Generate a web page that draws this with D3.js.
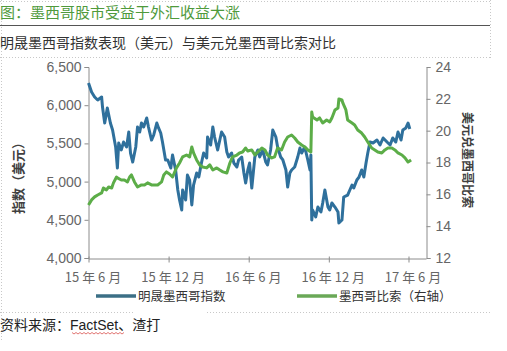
<!DOCTYPE html>
<html lang="zh">
<head>
<meta charset="UTF-8">
<title>墨西哥股市受益于外汇收益大涨</title>
<style>
    body { margin: 0; background: #fff; }
    svg { display: block; font-family: "Liberation Sans", Arial, "Noto Sans CJK SC", sans-serif; }
    .cjk { font-family: "Noto Sans CJK SC", sans-serif; }
</style>
</head>
<body>
<svg id="chart"></svg>
<script src="https://cdn.jsdelivr.net/npm/d3@7/dist/d3.min.js"></script>
<script>
// 明晟墨西哥指数（美元），左轴
const msciDates = ['2015-06-01','2015-06-08','2015-06-15','2015-06-22','2015-07-01','2015-07-03','2015-07-08','2015-07-12','2015-07-14','2015-07-21','2015-07-26','2015-08-02','2015-08-06','2015-08-09','2015-08-15','2015-08-20','2015-08-27','2015-09-01','2015-09-05','2015-09-10','2015-09-17','2015-09-21','2015-09-26','2015-09-30','2015-10-05','2015-10-12','2015-10-16','2015-10-23','2015-10-28','2015-11-04','2015-11-08','2015-11-13','2015-11-17','2015-11-24','2015-11-29','2015-12-06','2015-12-10','2015-12-17','2015-12-22','2015-12-26','2015-12-31','2016-01-02','2016-01-09','2016-01-13','2016-01-18','2016-01-23','2016-01-27','2016-02-03','2016-02-08','2016-02-14','2016-02-19','2016-02-26','2016-02-28','2016-03-06','2016-03-11','2016-03-15','2016-03-22','2016-03-27','2016-03-31','2016-04-07','2016-04-12','2016-04-16','2016-04-23','2016-04-28','2016-05-05','2016-05-09','2016-05-16','2016-05-21','2016-05-25','2016-05-30','2016-06-03','2016-06-08','2016-06-15','2016-06-22','2016-06-26','2016-07-03','2016-07-10','2016-07-14','2016-07-21','2016-07-26','2016-08-02','2016-08-06','2016-08-13','2016-08-18','2016-08-25','2016-08-29','2016-09-03','2016-09-07','2016-09-14','2016-09-21','2016-09-26','2016-09-30','2016-10-07','2016-10-14','2016-10-19','2016-10-21','2016-10-23','2016-10-25','2016-11-01','2016-11-06','2016-11-13','2016-11-17','2016-11-22','2016-11-29','2016-12-03','2016-12-08','2016-12-15','2016-12-22','2016-12-24','2016-12-31','2017-01-04','2017-01-13','2017-01-18','2017-01-23','2017-01-27','2017-02-03','2017-02-08','2017-02-14','2017-02-19','2017-02-24','2017-02-28','2017-03-05','2017-03-12','2017-03-21','2017-03-28','2017-04-04','2017-04-13','2017-04-20','2017-04-26','2017-05-03','2017-05-08','2017-05-15','2017-05-19','2017-05-26','2017-05-31','2017-06-04']
const msciValues = [6291,6173,6107,6068,6107,5976,5767,5898,5963,5767,5675,5453,5178,5505,5414,5518,5453,5649,5374,5256,5453,5715,5649,5767,5715,5832,5715,5544,5610,5767,5702,5636,5518,5283,5283,5178,5348,5152,4890,4759,4628,4890,4759,5086,5021,4694,4955,5112,5060,5243,5374,5309,5584,5479,5715,5584,5414,5544,5649,5584,5387,5322,5374,5243,5191,5283,5322,5112,4982,5152,5243,4916,5322,5414,5322,5414,5256,5217,5414,5675,5584,5453,5322,5283,5152,4929,5112,5152,5191,5322,5440,5374,5453,5283,5152,5348,4497,4628,4537,4667,4602,4720,4890,4667,4628,4720,4667,4602,4458,4497,4798,4824,4890,4955,4916,5021,5060,5152,5060,5243,5374,5518,5505,5544,5479,5571,5518,5479,5571,5518,5649,5544,5675,5702,5767,5688]

// 美元兑墨西哥比索，右轴
const pesoDates = ['2015-06-01','2015-06-08','2015-06-15','2015-06-22','2015-07-01','2015-07-05','2015-07-12','2015-07-17','2015-07-24','2015-07-28','2015-08-04','2015-08-06','2015-08-15','2015-08-22','2015-08-29','2015-09-03','2015-09-07','2015-09-14','2015-09-21','2015-09-30','2015-10-07','2015-10-14','2015-10-23','2015-10-30','2015-11-06','2015-11-15','2015-11-20','2015-11-26','2015-12-03','2015-12-10','2015-12-19','2015-12-26','2016-01-02','2016-01-11','2016-01-18','2016-01-23','2016-01-27','2016-02-03','2016-02-10','2016-02-17','2016-02-26','2016-03-04','2016-03-11','2016-03-20','2016-03-27','2016-04-03','2016-04-12','2016-04-19','2016-04-25','2016-05-05','2016-05-11','2016-05-18','2016-05-25','2016-05-30','2016-06-08','2016-06-15','2016-06-22','2016-07-01','2016-07-08','2016-07-14','2016-07-24','2016-07-30','2016-08-06','2016-08-15','2016-08-22','2016-08-29','2016-09-07','2016-09-14','2016-09-21','2016-09-30','2016-10-07','2016-10-14','2016-10-21','2016-10-23','2016-10-25','2016-11-04','2016-11-10','2016-11-17','2016-11-26','2016-12-03','2016-12-08','2016-12-15','2016-12-22','2016-12-24','2016-12-31','2017-01-02','2017-01-09','2017-01-13','2017-01-23','2017-01-29','2017-02-05','2017-02-14','2017-02-21','2017-02-28','2017-03-09','2017-03-16','2017-03-23','2017-04-01','2017-04-08','2017-04-15','2017-04-24','2017-05-01','2017-05-08','2017-05-17','2017-05-24','2017-05-31','2017-06-07']
const pesoValues = [15.33,15.65,15.84,15.96,16.09,16.40,16.28,16.46,16.40,16.72,17.09,17.03,16.90,16.90,16.78,17.09,17.22,16.78,16.46,16.59,16.59,16.72,16.59,16.59,16.59,16.78,17.22,17.41,17.28,17.09,17.66,17.97,18.35,18.47,18.35,18.98,18.60,18.16,17.85,17.72,17.66,17.85,17.53,17.66,17.53,17.41,17.34,17.97,18.35,18.47,18.60,18.66,18.91,18.72,18.79,18.47,18.66,18.91,18.79,18.47,18.29,18.35,18.91,18.79,19.29,19.60,19.73,19.54,19.29,19.10,18.98,18.79,18.66,21.17,20.86,20.67,20.80,20.48,20.67,20.55,20.80,21.30,21.43,21.99,21.93,21.74,21.30,20.67,20.48,20.36,20.04,19.85,19.60,19.29,18.91,18.79,18.66,18.60,18.79,18.91,18.91,18.79,18.60,18.47,18.29,18.03,18.16]

const xTicks = ['2015-06-01','2015-12-01','2016-06-01','2016-12-01','2017-06-01']
const leftTicks = [4000,4500,5000,5500,6000,6500]
const rightTicks = [12,14,16,18,20,22,24]
const seriesNames = ['明晟墨西哥指数','墨西哥比索（右轴）']

const blue = '#2f709c'
const green = '#5cad48'
const axisColor = '#8c8c8c'
const labelColor = '#666'

const W = 507, H = 351
const parse = d3.timeParse('%Y-%m-%d')

const svg = d3.select('#chart').attr('width', W).attr('height', H)

// faint document borders
const dots = svg.append('g').attr('stroke', '#c8c8c8').attr('stroke-dasharray', '1,2').attr('stroke-width', 1)
dots.append('line').attr('x1', 0).attr('x2', 490).attr('y1', 1.5).attr('y2', 1.5)
dots.append('line').attr('x1', 1.5).attr('x2', 1.5).attr('y1', 0).attr('y2', 340)
dots.append('line').attr('x1', 490.5).attr('x2', 490.5).attr('y1', 0).attr('y2', 58)
dots.append('line').attr('x1', 0).attr('x2', 490).attr('y1', 57.5).attr('y2', 57.5)
dots.append('line').attr('x1', 0).attr('x2', 135).attr('y1', 312.5).attr('y2', 312.5)
dots.append('line').attr('x1', 207).attr('x2', 490).attr('y1', 312.5).attr('y2', 312.5)

// title block
svg.append('text').attr('class', 'cjk').attr('x', 0).attr('y', 18)
    .attr('font-size', 15).attr('fill', '#4f9a3c').text('图：墨西哥股市受益于外汇收益大涨')
svg.append('line').attr('x1', 0).attr('x2', 490).attr('y1', 25.5).attr('y2', 25.5)
    .attr('stroke', '#555').attr('stroke-width', 1)
svg.append('text').attr('class', 'cjk').attr('x', 0).attr('y', 48)
    .attr('font-size', 14).attr('fill', '#333').text('明晟墨西哥指数表现（美元）与美元兑墨西哥比索对比')

// scales
const x = d3.scaleTime().domain([parse('2015-06-01'), parse('2017-07-11')]).range([88.5, 426])
const yL = d3.scaleLinear().domain([4000, 6500]).range([258, 67])
const yR = d3.scaleLinear().domain([12, 24]).range([258, 67])

function styleAxis(g) {
    g.selectAll('path, line').attr('stroke', axisColor)
    g.selectAll('text').attr('fill', labelColor)
}

svg.append('g').attr('transform', 'translate(88.5,0)')
    .call(d3.axisLeft(yL).tickValues(leftTicks).tickFormat(d3.format(',')).tickSize(4).tickSizeOuter(4).tickPadding(3))
    .call(styleAxis)
    .selectAll('text').attr('font-size', 14).attr('font-family', '"Liberation Sans", Arial, sans-serif')

svg.append('g').attr('transform', 'translate(426.5,0)')
    .call(d3.axisRight(yR).tickValues(rightTicks).tickSize(4).tickSizeOuter(4).tickPadding(5))
    .call(styleAxis)
    .selectAll('text').attr('font-size', 14).attr('font-family', '"Liberation Sans", Arial, sans-serif')

const xFmt = d => `${d3.timeFormat('%y')(d)} 年 ${d.getMonth() + 1} 月`
const xAxis = svg.append('g').attr('transform', 'translate(0,258.5)')
    .call(d3.axisBottom(x).tickValues(xTicks.map(parse)).tickFormat(xFmt).tickSize(4).tickSizeOuter(0).tickPadding(10))
    .call(styleAxis)
xAxis.selectAll('text').attr('class', 'cjk').attr('font-size', 13).attr('dx', 4)
xAxis.selectAll('.tick line').attr('y1', -2)

// axis titles
svg.append('text').attr('class', 'cjk')
    .attr('transform', 'translate(23,175) rotate(-90)')
    .attr('text-anchor', 'middle').attr('font-size', 13).attr('font-weight', 'bold')
    .attr('fill', '#404040').text('指数（美元）')
svg.append('text').attr('class', 'cjk')
    .attr('transform', 'translate(463,160) rotate(90)')
    .attr('text-anchor', 'middle').attr('font-size', 12).attr('font-weight', 'bold')
    .attr('fill', '#404040').text('美元兑墨西哥比索')

// series
const msci = msciDates.map((d, i) => ({ date: parse(d), v: msciValues[i] }))
const peso = pesoDates.map((d, i) => ({ date: parse(d), v: pesoValues[i] }))

svg.append('path').datum(msci)
    .attr('fill', 'none').attr('stroke', blue).attr('stroke-width', 3).attr('stroke-linejoin', 'round')
    .attr('d', d3.line().x(d => x(d.date)).y(d => yL(d.v)))
svg.append('path').datum(peso)
    .attr('fill', 'none').attr('stroke', green).attr('stroke-width', 3).attr('stroke-linejoin', 'round')
    .attr('d', d3.line().x(d => x(d.date)).y(d => yR(d.v)))

// legend
const legend = svg.append('g').attr('class', 'cjk')
const legendItems = [
    { name: seriesNames[0], color: '#3b6f86', x: 96 },
    { name: seriesNames[1], color: '#6aa857', x: 297 }
]
legendItems.forEach(it => {
    legend.append('line').attr('x1', it.x).attr('x2', it.x + 40).attr('y1', 296).attr('y2', 296)
        .attr('stroke', it.color).attr('stroke-width', 3.5)
    legend.append('text').attr('x', it.x + 42).attr('y', 301).attr('font-size', 12.5)
        .attr('fill', '#333').text(it.name)
})

// source
const src = svg.append('text').attr('x', 0).attr('y', 330).attr('font-size', 14).attr('fill', '#222')
src.append('tspan').attr('class', 'cjk').text('资料来源：')
src.append('tspan').attr('font-family', '"Liberation Sans", Arial, sans-serif').text('FactSet')
src.append('tspan').attr('class', 'cjk').text('、渣打')

// red spell-check squiggle under FactSet
const sq = []
for (let px = 72; px <= 124; px += 2) sq.push([px, 333 + ((px / 2) % 2 ? 1 : -0.5)])
svg.append('path').attr('d', d3.line()(sq)).attr('fill', 'none').attr('stroke', '#d9534f').attr('stroke-width', 0.8)
</script>
</body>
</html>
